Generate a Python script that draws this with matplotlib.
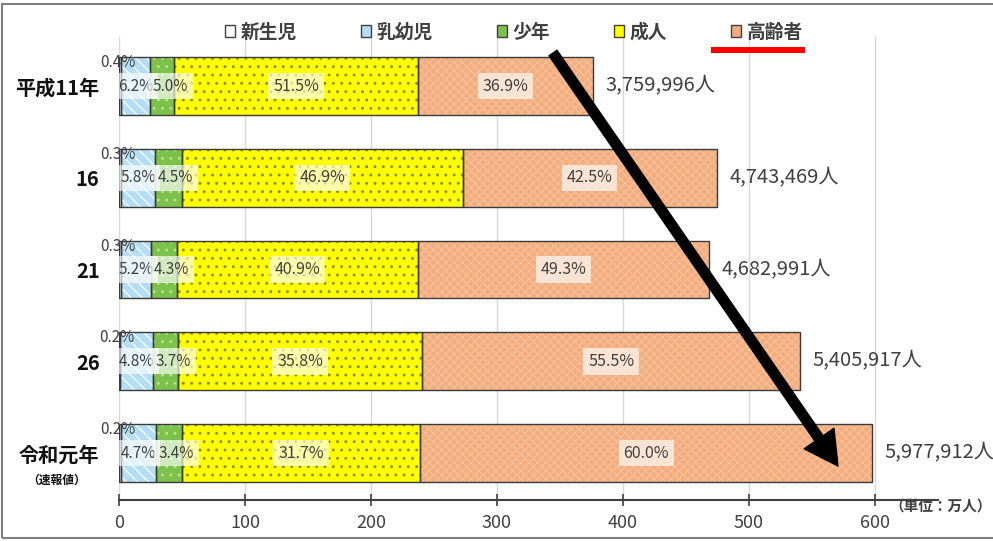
import matplotlib
matplotlib.use("Agg")
import matplotlib.pyplot as plt
from matplotlib.patches import Patch, Rectangle, FancyArrowPatch, ArrowStyle

plt.rcParams['font.family'] = ['Noto Sans CJK JP', 'DejaVu Sans']
plt.rcParams['hatch.linewidth'] = 0.9

# data (shares in %, totals in persons)
years = ['平成11年', '16', '21', '26', '令和元年']
totals = [3759996, 4743469, 4682991, 5405917, 5977912]
groups = ['新生児', '乳幼児', '少年', '成人', '高齢者']
newborn = [0.4, 0.3, 0.3, 0.2, 0.2]
infant = [6.2, 5.8, 5.2, 4.8, 4.7]
juvenile = [5.0, 4.5, 4.3, 3.7, 3.4]
adult = [51.5, 46.9, 40.9, 35.8, 31.7]
elderly = [36.9, 42.5, 49.3, 55.5, 60.0]
xticks = [0, 100, 200, 300, 400, 500, 600]

shares = [newborn, infant, juvenile, adult, elderly]
faces = ['white', '#b3def5', '#7cc24a', '#ffff00', '#f3ad7d']
hatches = ['', '\\\\\\', '..', '..', 'xxxx']
hatch_cols = ['#808080', 'white', '#b8e293', '#8c8c10', '#f6bf9a']

txt = '#404040'
fig = plt.figure(figsize=(9.93, 5.41), dpi=100)
ax = fig.add_axes([119/993, 1 - 500/541, 819/993, 463/541])

ys = list(range(len(years)))
h = 0.63
totals_man = [t / 10000 for t in totals]
lefts = [0.0] * len(years)
seg = []
for k, g in enumerate(groups):
    widths = [totals_man[i] * shares[k][i] / 100 for i in ys]
    ax.barh(ys, widths, left=lefts, height=h, color=faces[k], hatch=hatches[k],
            edgecolor=hatch_cols[k], linewidth=0, zorder=2)
    ax.barh(ys, widths, left=lefts, height=h, fill=False,
            edgecolor='#3a3a3a', linewidth=1.0, zorder=3)
    seg.append((list(lefts), widths))
    lefts = [lefts[i] + widths[i] for i in ys]

box = dict(boxstyle='square,pad=0.3', facecolor='white', alpha=0.65, edgecolor='none')
for i in ys:
    # newborn: above-left
    l, w = seg[0][0][i], seg[0][1][i]
    ax.annotate(f'{newborn[i]:.1f}%', (l + w / 2, i - h / 2), xytext=(11, -4),
                textcoords='offset points', ha='right', va='center',
                fontsize=11, color=txt, zorder=5)
    # infant: centered
    l, w = seg[1][0][i], seg[1][1][i]
    ax.text(l + w / 2, i, f'{infant[i]:.1f}%', ha='center', va='center',
            fontsize=11, color=txt, bbox=box, zorder=5)
    # juvenile: left aligned at segment start
    l, w = seg[2][0][i], seg[2][1][i]
    ax.annotate(f'{juvenile[i]:.1f}%', (l, i), xytext=(2, 0),
                textcoords='offset points', ha='left', va='center',
                fontsize=11, color=txt, bbox=box, zorder=5)
    for k, vals in ((3, adult), (4, elderly)):
        l, w = seg[k][0][i], seg[k][1][i]
        ax.text(l + w / 2, i, f'{vals[i]:.1f}%', ha='center', va='center',
                fontsize=11.5, color=txt, bbox=box, zorder=5)
    ax.annotate(f'{totals[i]:,}人', (totals_man[i], i), xytext=(9, 0),
                textcoords='offset points', ha='left', va='center',
                fontsize=14.5, color=txt)

ax.set_xlim(0, 650)
ax.set_ylim(len(years) - 1 + 0.512, -0.535)
ax.set_xticks(xticks)
ax.set_yticks(ys)
ax.set_yticklabels(years, fontsize=14.5, fontweight='bold', color='#111111')
ax.tick_params(axis='y', length=0, pad=14)
ax.tick_params(axis='x', direction='inout', length=8, width=1.2, color='#404040',
               labelsize=13, labelcolor=txt, pad=6)
for s in ('left', 'right', 'top'):
    ax.spines[s].set_visible(False)
ax.spines['bottom'].set_color('#404040')
ax.spines['bottom'].set_linewidth(1.5)
ax.grid(axis='x', color='#d9d9d9', linewidth=1, zorder=0)
ax.set_axisbelow(True)

ax.text(-0.0757, 4.3, '（速報値）', transform=ax.get_yaxis_transform(),
        ha='center', va='center', fontsize=8.5, fontweight='bold', color='#111111')
ax.annotate('（単位：万人）', (600, 0), xycoords=('data', 'axes fraction'),
            xytext=(10, -5), textcoords='offset points', ha='left', va='center',
            fontsize=10.5, color=txt, fontweight='bold')

handles = [Patch(facecolor=faces[k], edgecolor='#404040', linewidth=1.0) for k in range(5)]
leg = fig.legend(handles, groups, loc='center', bbox_to_anchor=(514/993, 1 - 32/541),
                 ncol=5, frameon=False, handlelength=0.55, handleheight=0.55,
                 handletextpad=0.3, columnspacing=3.4, labelcolor=txt,
                 prop={'size': 13.5, 'weight': 'bold'})

# red underline below the last legend entry
fig.canvas.draw()
r = fig.canvas.get_renderer()
tb = leg.get_texts()[4].get_window_extent(r)
x0 = (tb.x0 - 36) / 993
x1 = (tb.x1 + 2) / 993
fig.add_artist(Rectangle((x0, 1 - 53/541), x1 - x0, 6/541, transform=fig.transFigure,
                         facecolor='#ff0000', edgecolor='none'))

# big arrow
arrow = FancyArrowPatch((553/993, 1 - 53/541), (838/993, 1 - 466/541),
                        transform=fig.transFigure,
                        arrowstyle=ArrowStyle.Simple(head_length=24, head_width=26, tail_width=7),
                        mutation_scale=1, color='black', shrinkA=0, shrinkB=0, zorder=10)
fig.add_artist(arrow)

# outer frame
fig.add_artist(Rectangle((2/993, 3/541), 1.1, 534/541, transform=fig.transFigure,
                         fill=False, edgecolor='#7f7f7f', linewidth=1.5))

fig.savefig('out.png', dpi=100)
